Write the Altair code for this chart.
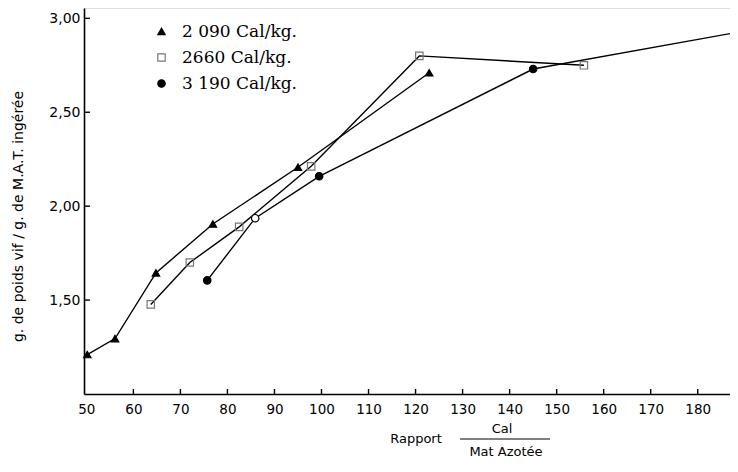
import altair as alt
import pandas as pd

# ---- data ----
series_labels = ["2 090 Cal/kg.", "2660 Cal/kg.", "3 190 Cal/kg."]

ratio_2090 = [50.2, 56.1, 64.8, 76.9, 95.0, 122.9]
gain_2090 = [1.21, 1.295, 1.645, 1.905, 2.207, 2.71]

ratio_2660 = [63.7, 72.0, 82.5, 97.8, 120.8, 155.8]
gain_2660 = [1.477, 1.70, 1.89, 2.212, 2.80, 2.75]

ratio_3190 = [75.7, 85.9, 99.5, 145.0, 188.5]
gain_3190 = [1.605, 1.936, 2.159, 2.73, 2.926]
open_3190 = [False, True, False, False, False]

x_ticks = [50, 60, 70, 80, 90, 100, 110, 120, 130, 140, 150, 160, 170, 180]
y_ticks = [1.5, 2.0, 2.5, 3.0]

y_title = "g. de poids vif / g. de M.A.T. ingérée"
x_title_left = "Rapport"
x_title_num = "Cal"
x_title_den = "Mat Azotée"

# ---- tables ----
rows = []
for lab, xs_, ys_, op in [
    (series_labels[0], ratio_2090, gain_2090, [False] * len(ratio_2090)),
    (series_labels[1], ratio_2660, gain_2660, [False] * len(ratio_2660)),
    (series_labels[2], ratio_3190, gain_3190, open_3190),
]:
    for xv, yv, o in zip(xs_, ys_, op):
        rows.append({"series": lab, "ratio": xv, "gain": yv, "open": o})
df = pd.DataFrame(rows)

W, H = 646, 386
XDOM = [49.5, 186.86]
YDOM = [1.0, 3.055]
sans = "DejaVu Sans"
serif = "DejaVu Serif"

xs = alt.Scale(domain=XDOM, nice=False, zero=False)
ys = alt.Scale(domain=YDOM, nice=False, zero=False)

leg = alt.Legend(title=None, orient="none", legendX=69, legendY=15,
                 direction="vertical", labelFont=serif,
                 labelFontSize=17, labelColor="black",
                 rowPadding=8, labelOffset=12, padding=0,
                 symbolStrokeWidth=1.2)

base = alt.Chart(df)

lines = base.mark_line(color="black", strokeWidth=1.4).encode(
    x=alt.X("ratio:Q", scale=xs,
            axis=alt.Axis(values=x_ticks, title=None, ticks=False, grid=False,
                          labelFont=sans, labelFontSize=13.5, labelColor="black",
                          labelPadding=8, domainColor="black", domainWidth=1.6)),
    y=alt.Y("gain:Q", scale=ys,
            axis=alt.Axis(values=y_ticks, title=y_title, ticks=False, grid=False,
                          labelExpr="replace(format(datum.value, '.2f'), '.', ',')",
                          labelFont=sans, labelFontSize=14, labelColor="black",
                          labelPadding=4, domainColor="black", domainWidth=1.6,
                          titleFont=sans, titleFontSize=14, titleFontWeight="normal",
                          titleColor="black", titleAngle=270, titleX=-66, titleY=208,
                          titleAlign="center", titleBaseline="middle")),
    detail="series:N",
    order="ratio:Q",
)

points = base.mark_point(filled=True, opacity=1, strokeWidth=1.2).encode(
    x=alt.X("ratio:Q", scale=xs),
    y=alt.Y("gain:Q", scale=ys),
    shape=alt.Shape("series:N", sort=series_labels,
                    scale=alt.Scale(domain=series_labels,
                                    range=["triangle-up", "square", "circle"]),
                    legend=leg),
    fill=alt.condition("datum.open",
                       alt.value("white"),
                       alt.Fill("series:N", sort=series_labels,
                                scale=alt.Scale(domain=series_labels,
                                                range=["black", "transparent", "black"]),
                                legend=leg)),
    stroke=alt.Stroke("series:N", sort=series_labels,
                      scale=alt.Scale(domain=series_labels,
                                      range=["black", "#777777", "black"]),
                      legend=leg),
    size=alt.Size("series:N", sort=series_labels,
                  scale=alt.Scale(domain=series_labels, range=[55, 55, 80]),
                  legend=leg),
)

tick_y = alt.Chart(pd.DataFrame({"v": y_ticks})).mark_rule(
    color="black", strokeWidth=1.4).encode(
    y=alt.Y("v:Q", scale=ys), x=alt.value(0), x2=alt.value(6))

tick_x = alt.Chart(pd.DataFrame({"v": x_ticks[1:]})).mark_rule(
    color="black", strokeWidth=1.4).encode(
    x=alt.X("v:Q", scale=xs), y=alt.value(H), y2=alt.value(H - 5))

txt = dict(font=sans, fontSize=13, color="black", align="center", baseline="middle")
lab_rapport = alt.Chart(pd.DataFrame({"t": [x_title_left]})).mark_text(**txt).encode(
    text="t:N", x=alt.value(332), y=alt.value(431))
lab_num = alt.Chart(pd.DataFrame({"t": [x_title_num]})).mark_text(**txt).encode(
    text="t:N", x=alt.value(418), y=alt.value(421))
lab_den = alt.Chart(pd.DataFrame({"t": [x_title_den]})).mark_text(**txt).encode(
    text="t:N", x=alt.value(422), y=alt.value(444))
frac = alt.Chart(pd.DataFrame({"t": [x_title_num]})).mark_rule(
    color="black", strokeWidth=1.2).encode(
    x=alt.value(376), x2=alt.value(466), y=alt.value(431))

chart = alt.layer(lines, points, tick_y, tick_x, lab_rapport, lab_num, lab_den, frac).properties(
    width=W, height=H,
    autosize=alt.AutoSizeParams(type="none"),
    padding={"left": 76, "top": 0, "right": 0, "bottom": 66},
).configure_view(stroke=None).configure(background="white")

chart.save("out.html", embed_options={"renderer": "svg", "actions": False})
